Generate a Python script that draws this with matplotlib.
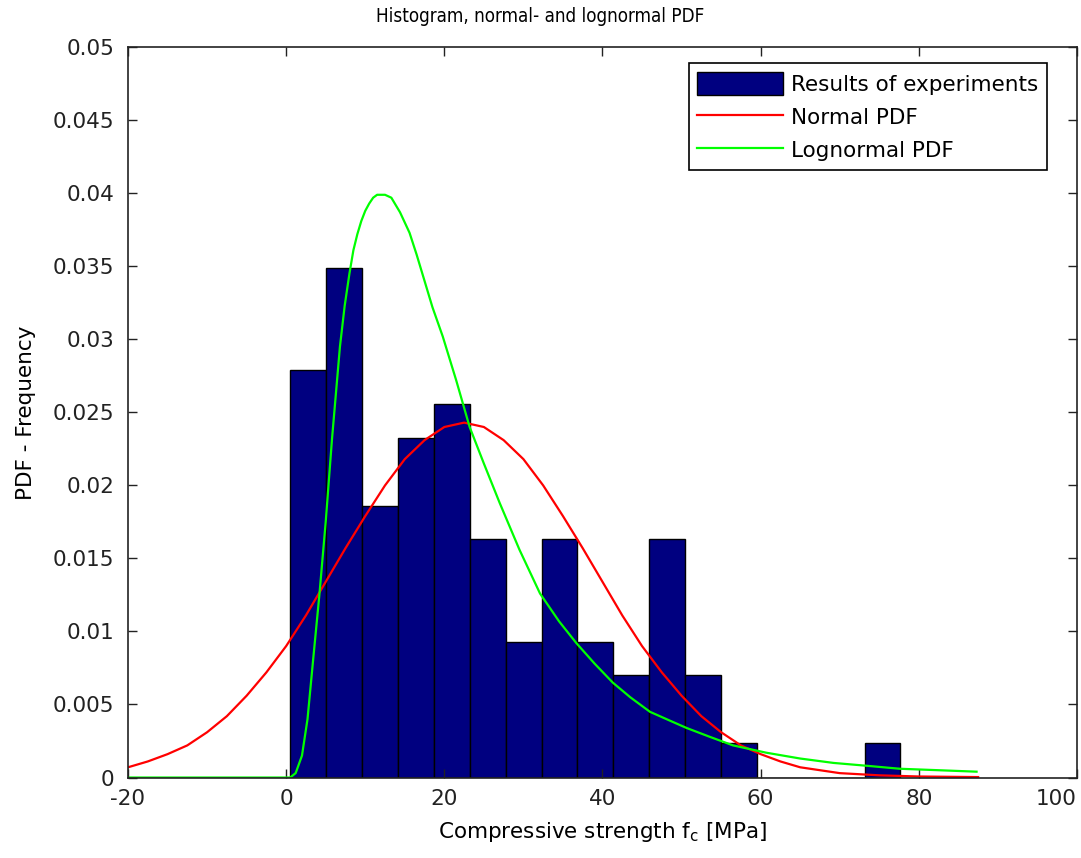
import matplotlib
matplotlib.use("Agg")
import matplotlib.pyplot as plt
import numpy as np

# histogram of the experiments (bin centres in MPa, density per bin)
bin_centers = [2.81, 7.35, 11.88, 16.42, 20.96, 25.49, 30.03, 34.57, 39.10,
               43.64, 48.18, 52.71, 57.25, 61.79, 66.32, 70.86, 75.40]
bin_heights = [0.0279, 0.0349, 0.0186, 0.02325, 0.0256, 0.0163, 0.0093, 0.0163, 0.0093,
               0.0070, 0.0163, 0.0070, 0.00233, 0.0, 0.0, 0.0, 0.00233]
bin_width = 4.537

# normal PDF
normal_x = [-20, -17.5, -15, -12.5, -10, -7.5, -5, -2.5, 0, 2.5, 5, 7.5, 10, 12.5, 15,
            17.5, 20, 22.5, 25, 27.5, 30, 32.5, 35, 37.5, 40, 42.5, 45, 47.5, 50, 52.5,
            55, 57.5, 60, 62.5, 65, 70, 75, 80, 87.5]
normal_y = [0.0007, 0.0011, 0.0016, 0.0022, 0.0031, 0.0042, 0.0056, 0.0072, 0.0090,
            0.0111, 0.0134, 0.0157, 0.0179, 0.0200, 0.0218, 0.0231, 0.0240, 0.0243,
            0.0240, 0.0231, 0.0218, 0.0200, 0.0179, 0.0157, 0.0134, 0.0111, 0.0090,
            0.0072, 0.0056, 0.0042, 0.0031, 0.0022, 0.0016, 0.0011, 0.0007, 0.0003,
            0.00015, 0.00007, 0.00003]

# lognormal PDF
logn_x = [-20, 0.5, 1.2, 2.0, 2.7, 3.4, 4.2, 5.0, 5.8, 6.8, 7.4, 8.0, 8.5, 9.0, 9.5,
          10.0, 10.5, 11.0, 11.5, 12.5, 13.3, 14.4, 15.6, 16.5, 17.5, 18.5, 19.8, 21.5,
          23.2, 25.0, 27.0, 29.5, 32.1, 34.5, 36.7, 39.0, 41.3, 43.5, 46.0, 48.5, 50.6,
          53.5, 56.5, 60.7, 65.0, 69.2, 73.5, 77.6, 82.5, 87.3]
logn_y = [0, 0, 0.0003, 0.0015, 0.004, 0.008, 0.0125, 0.0175, 0.0232, 0.0295, 0.0323,
          0.0345, 0.0361, 0.0372, 0.0381, 0.0388, 0.0393, 0.0397, 0.0399, 0.0399, 0.0397,
          0.0387, 0.0373, 0.0358, 0.0340, 0.0322, 0.0302, 0.0272, 0.0240, 0.0215, 0.0188,
          0.0156, 0.0126, 0.0107, 0.0092, 0.0078, 0.0065, 0.0055, 0.0045, 0.0039, 0.0034,
          0.0028, 0.0022, 0.0017, 0.0013, 0.0010, 0.0008, 0.0006, 0.0005, 0.0004]

xticks = [-20, 0, 20, 40, 60, 80, 100]
yticks = [0, 0.005, 0.01, 0.015, 0.02, 0.025, 0.03, 0.035, 0.04, 0.045, 0.05]
ytick_labels = ["0", "0.005", "0.01", "0.015", "0.02", "0.025", "0.03", "0.035",
                "0.04", "0.045", "0.05"]

plt.rcParams["font.family"] = "DejaVu Sans"

fig = plt.figure(figsize=(10.81, 8.58), dpi=100)
ax = fig.add_axes([0.1184, 0.0938, 0.8779, 0.8511])

bars = ax.bar(bin_centers, bin_heights, width=bin_width, color="#000080",
              edgecolor="black", linewidth=1.0, label="Results of experiments")
l_norm, = ax.plot(normal_x, normal_y, color="#ff0000", lw=1.6, label="Normal PDF")
l_logn, = ax.plot(logn_x, logn_y, color="#00ff00", lw=1.6, label="Lognormal PDF")

ax.set_xlim(-20, 100)
ax.set_ylim(0, 0.05)
ax.set_xticks(xticks)
ax.set_xticklabels([str(t) for t in xticks])
ax.set_yticks(yticks)
ax.set_yticklabels(ytick_labels)
ax.tick_params(direction="in", length=6.5, width=1, top=True, right=True,
               labelsize=15.5, colors="#222222")
ax.tick_params(axis="x", pad=8)
ax.tick_params(axis="y", pad=10)
# last x label would run past the figure edge
ax.get_xticklabels()[-1].set_horizontalalignment("right")
for sp in ax.spines.values():
    sp.set_linewidth(1.2)
    sp.set_color("#222222")

ax.set_xlabel("Compressive strength f$_\\mathregular{c}$ [MPa]", fontsize=15.5, labelpad=8)
ax.set_ylabel("PDF - Frequency", fontsize=15.5, labelpad=12)
fig.text(0.5, 0.981, "Histogram, normal- and lognormal PDF", ha="center", va="center",
         fontsize=13.5, fontstretch="condensed")

leg = ax.legend([bars, l_norm, l_logn],
                ["Results of experiments", "Normal PDF", "Lognormal PDF"],
                loc="upper right", bbox_to_anchor=(0.968, 0.978), borderaxespad=0,
                fontsize=15.5, handlelength=4.0, handleheight=1.3, handletextpad=0.35,
                labelspacing=0.45, borderpad=0.4, fancybox=False, framealpha=1,
                edgecolor="black")
leg.get_frame().set_linewidth(1.2)

fig.savefig("out.png", dpi=100)
